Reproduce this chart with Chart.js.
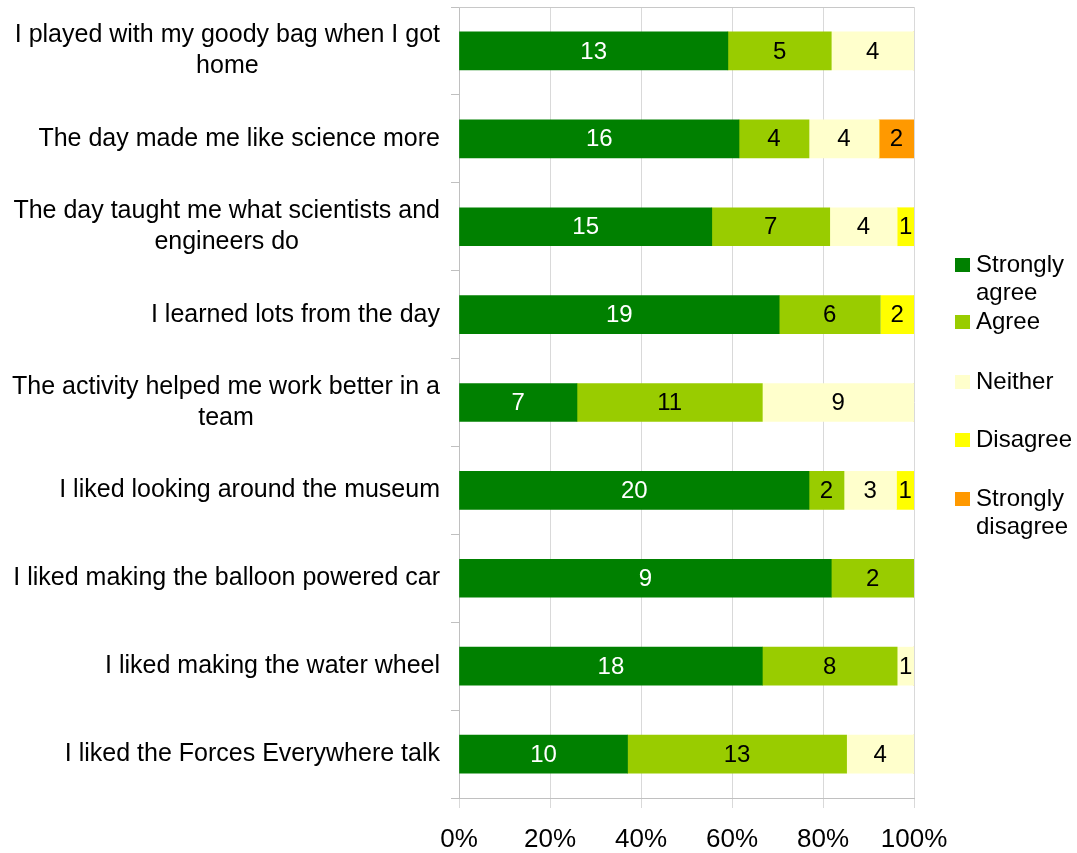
<!DOCTYPE html>
<html lang="en">
<head>
    <meta charset="UTF-8">
    <title>Feedback Chart</title>
    <script src="https://cdn.jsdelivr.net/npm/chart.js"></script>
    <style>
        html, body { margin: 0; padding: 0; background: #fff; }
        #box { width: 1077px; height: 853px; }
    </style>
</head>
<body>
<div id="box"><canvas id="feedbackChart"></canvas></div>

<script>
    // questions, top to bottom (arrays = wrapped lines)
    const categories = [
        ['I played with my goody bag when I got', 'home'],
        ['The day made me like science more'],
        ['The day taught me what scientists and', 'engineers do'],
        ['I learned lots from the day'],
        ['The activity helped me work better in a', 'team'],
        ['I liked looking around the museum'],
        ['I liked making the balloon powered car'],
        ['I liked making the water wheel'],
        ['I liked the Forces Everywhere talk']
    ];

    // answer counts per question
    const stronglyAgree    = [13, 16, 15, 19, 7, 20, 9, 18, 10];
    const agree            = [5, 4, 7, 6, 11, 2, 2, 8, 13];
    const neither          = [4, 4, 4, 0, 9, 3, 0, 1, 4];
    const disagree         = [0, 0, 1, 2, 0, 1, 0, 0, 0];
    const stronglyDisagree = [0, 2, 0, 0, 0, 0, 0, 0, 0];

    const seriesNames  = [['Strongly', 'agree'], ['Agree'], ['Neither'], ['Disagree'], ['Strongly', 'disagree']];
    const seriesColors = ['#008000', '#99cc00', '#ffffcc', '#ffff00', '#ff9900'];
    const labelColors  = ['#ffffff', '#000000', '#000000', '#000000', '#000000'];
    const percentTicks = [0, 20, 40, 60, 80, 100];

    const FONT = '"Liberation Sans", Arial, sans-serif';
    const counts = [stronglyAgree, agree, neither, disagree, stronglyDisagree];

    // totals per question so every bar is 100%
    const totals = categories.map((c, i) => counts.reduce((s, arr) => s + arr[i], 0));

    const datasets = counts.map((arr, k) => ({
        label: seriesNames[k].join(' '),
        data: arr.map((v, i) => v / totals[i] * 100),
        counts: arr,
        backgroundColor: seriesColors[k],
        borderWidth: 0,
        barThickness: 38
    }));

    // count labels in the middle of each segment
    const segmentLabels = {
        id: 'segmentLabels',
        afterDatasetsDraw(chart) {
            const ctx = chart.ctx;
            ctx.save();
            ctx.font = '24px ' + FONT;
            ctx.textAlign = 'center';
            ctx.textBaseline = 'middle';
            chart.data.datasets.forEach((ds, k) => {
                chart.getDatasetMeta(k).data.forEach((bar, i) => {
                    const n = ds.counts[i];
                    if (!n) return;
                    ctx.fillStyle = labelColors[k];
                    ctx.fillText(String(n), (bar.x + bar.base) / 2, bar.y + 1);
                });
            });
            ctx.restore();
        }
    };

    // question text left of the axis, lines centred on each other
    const questionLabels = {
        id: 'questionLabels',
        afterDraw(chart) {
            const ctx = chart.ctx;
            const yScale = chart.scales.y;
            const right = chart.chartArea.left - 19;
            ctx.save();
            ctx.font = '25px ' + FONT;
            ctx.fillStyle = '#000';
            ctx.textAlign = 'center';
            ctx.textBaseline = 'middle';
            categories.forEach((lines, i) => {
                const w = Math.max(...lines.map(t => ctx.measureText(t).width));
                const cx = right - w / 2;
                const y0 = yScale.getPixelForValue(i) - (lines.length - 1) * 31 / 2;
                lines.forEach((t, j) => ctx.fillText(t, cx, y0 + j * 31));
            });
            ctx.restore();
        }
    };

    // top border of the plot area
    const plotBorder = {
        id: 'plotBorder',
        beforeDatasetsDraw(chart) {
            const a = chart.chartArea;
            const ctx = chart.ctx;
            ctx.save();
            ctx.strokeStyle = '#c8c8c8';
            ctx.lineWidth = 1;
            ctx.beginPath();
            ctx.moveTo(a.left, a.top + 0.5);
            ctx.lineTo(a.right, a.top + 0.5);
            ctx.stroke();
            ctx.restore();
        }
    };

    // legend on the right
    const sideLegend = {
        id: 'sideLegend',
        afterDraw(chart) {
            const ctx = chart.ctx;
            const rows = [265, 322, 382, 440, 499];
            ctx.save();
            ctx.font = '24px ' + FONT;
            ctx.textBaseline = 'middle';
            ctx.textAlign = 'left';
            seriesNames.forEach((lines, k) => {
                ctx.fillStyle = seriesColors[k];
                ctx.fillRect(955, rows[k] - 7, 15, 14);
                ctx.fillStyle = '#000';
                lines.forEach((t, j) => ctx.fillText(t, 976, rows[k] + j * 28));
            });
            ctx.restore();
        }
    };

    const ctx = document.getElementById('feedbackChart').getContext('2d');
    new Chart(ctx, {
        type: 'bar',
        data: {
            labels: categories.map(l => l.join(' ')),
            datasets: datasets
        },
        options: {
            indexAxis: 'y',
            responsive: true,
            maintainAspectRatio: false,
            animation: false,
            layout: { padding: { top: 7, right: 163, bottom: 0, left: 0 } },
            plugins: {
                legend: { display: false },
                tooltip: { enabled: false }
            },
            scales: {
                x: {
                    stacked: true,
                    min: 0,
                    max: 100,
                    afterBuildTicks: scale => {
                        scale.ticks = percentTicks.map(v => ({ value: v }));
                    },
                    afterFit: scale => { scale.height = 55; },
                    grid: { color: '#d9d9d9', tickLength: 10 },
                    border: { color: '#c0c0c0' },
                    ticks: {
                        color: '#000',
                        font: { family: FONT, size: 26 },
                        padding: 16,
                        callback: v => v + '%'
                    }
                },
                y: {
                    stacked: true,
                    offset: true,
                    afterFit: scale => { scale.width = 459; },
                    grid: { offset: true, drawOnChartArea: false, tickLength: 8, color: '#c0c0c0' },
                    border: { color: '#c0c0c0' },
                    ticks: { display: false }
                }
            }
        },
        plugins: [segmentLabels, questionLabels, plotBorder, sideLegend]
    });
</script>
</body>
</html>
